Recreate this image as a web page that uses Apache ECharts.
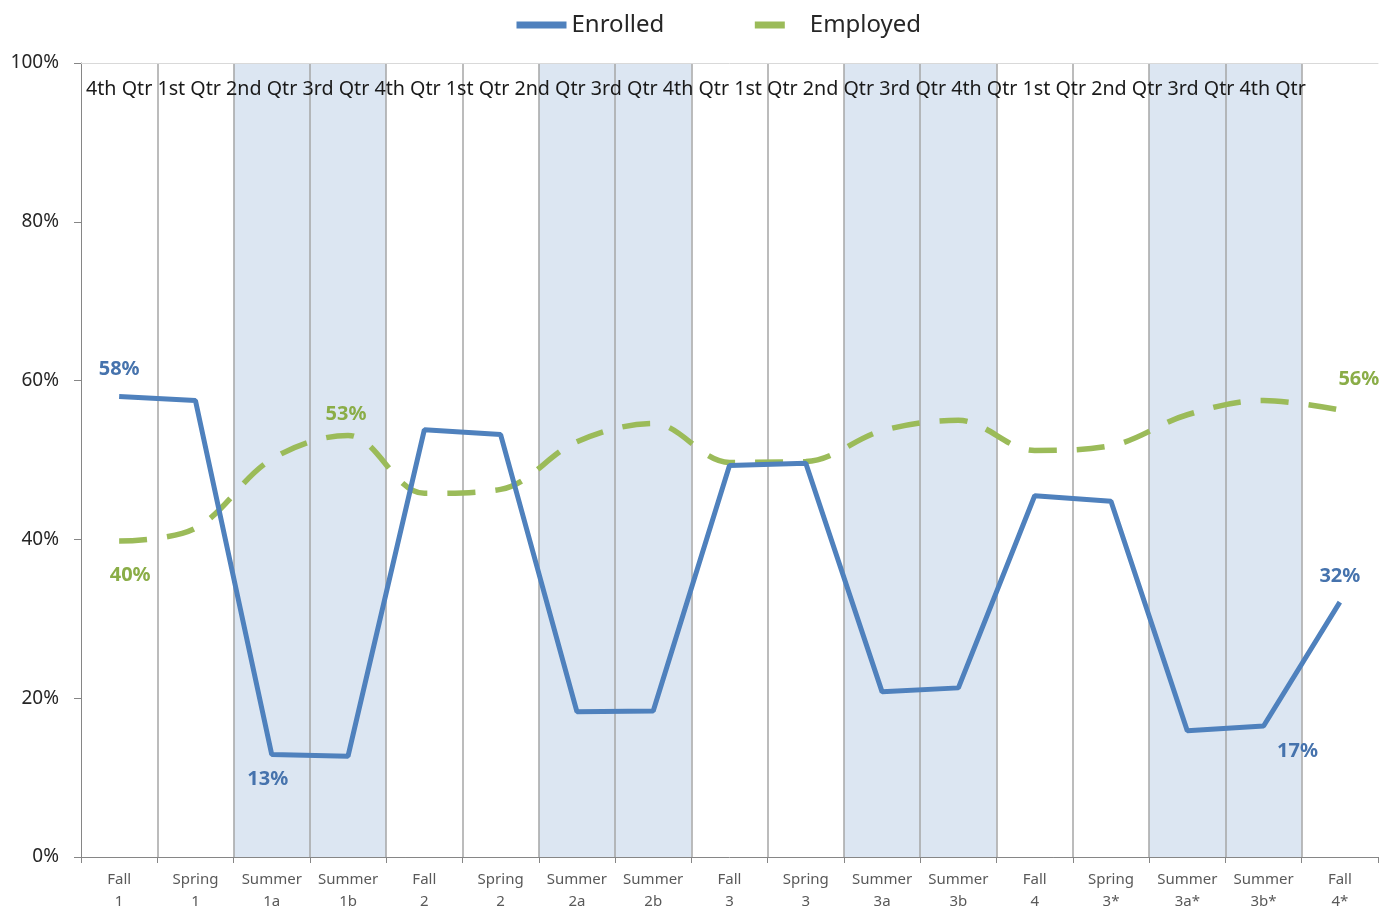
<!DOCTYPE html>
<html>
<head>
<meta charset="utf-8">
<script src="https://cdn.jsdelivr.net/npm/echarts@6/dist/echarts.min.js"></script>
<style>html,body{margin:0;padding:0;background:#fff}#c{width:1389px;height:913px}</style>
</head>
<body>
<div id="c"></div>
<script>
var categories = ['Fall\n1','Spring\n1','Summer\n1a','Summer\n1b','Fall\n2','Spring\n2','Summer\n2a','Summer\n2b','Fall\n3','Spring\n3','Summer\n3a','Summer\n3b','Fall\n4','Spring\n3*','Summer\n3a*','Summer\n3b*','Fall\n4*'];
var enrolled = [58.0, 57.5, 12.9, 12.7, 53.8, 53.2, 18.3, 18.4, 49.3, 49.6, 20.8, 21.3, 45.5, 44.8, 15.9, 16.5, 32.1];
var employed = [39.8, 41.4, 50.1, 53.1, 45.8, 46.3, 52.3, 54.6, 49.7, 49.8, 53.7, 55.0, 51.2, 51.8, 55.7, 57.5, 56.3];
var quarterLabels = ['4th Qtr','1st Qtr','2nd Qtr','3rd Qtr','4th Qtr','1st Qtr','2nd Qtr','3rd Qtr','4th Qtr','1st Qtr','2nd Qtr','3rd Qtr','4th Qtr','1st Qtr','2nd Qtr','3rd Qtr','4th Qtr'];
var yTicks = [0, 20, 40, 60, 80, 100];

var FONT = '"Noto Sans", "Open Sans", sans-serif';
var BLUE = '#4f81bd', GREEN = '#9bbb59';

// label styles for labelled points (index -> label option)
var enrolledLabels = {
  0: {position: 'top', distance: 16},
  2: {position: 'bottom', distance: 14, offset: [-4, 0]},
  15: {position: 'bottom', distance: 14, offset: [34, 0]},
  16: {position: 'top', distance: 15}
};
var employedLabels = {
  0: {position: 'bottom', distance: 23, offset: [11, 0]},
  3: {position: 'top', distance: 10, offset: [-2, 0]},
  16: {position: 'top', distance: 20, offset: [19, 0]}
};

function buildData(values, labels, color) {
  return values.map(function (v, i) {
    var item = {value: v};
    if (labels[i]) {
      item.label = Object.assign({
        show: true,
        color: color,
        fontSize: 20,
        fontWeight: 'bold',
        fontFamily: FONT,
        formatter: function (p) { return Math.round(p.value) + '%'; }
      }, labels[i]);
    }
    return item;
  });
}

var chart = echarts.init(document.getElementById('c'));
chart.setOption({
  animation: false,
  backgroundColor: '#fff',
  grid: {left: 81, right: 11, top: 63, bottom: 52, containLabel: false},
  legend: {
    left: 508, top: 8,
    itemWidth: 50, itemHeight: 14, itemGap: 87,
    itemStyle: {opacity: 0},
    textStyle: {fontSize: 24, fontFamily: FONT, color: '#262626'},
    data: [
      {name: 'Enrolled', lineStyle: {width: 7, type: 'solid', color: BLUE}},
      {name: 'Employed', lineStyle: {width: 7, type: [30, 40], color: GREEN}}
    ]
  },
  graphic: [{
    type: 'text', left: 86, top: 79, silent: true, z: 50,
    style: {text: quarterLabels.join(' '), fontSize: 19.7, fontFamily: FONT, fill: '#1a1a1a'}
  }],
  xAxis: [{
    type: 'category',
    data: categories,
    boundaryGap: true,
    axisLine: {lineStyle: {color: '#868686', width: 1}},
    axisTick: {show: true, length: 6, interval: 0, lineStyle: {color: '#868686'}},
    axisLabel: {interval: 0, margin: 12, fontSize: 15, lineHeight: 22, color: '#595959', fontFamily: FONT},
    splitLine: {show: true, interval: 0, showMinLine: false, showMaxLine: false, lineStyle: {color: '#a6a6a6', width: 1.5}},
    splitArea: {show: true, interval: 0, areaStyle: {color: ['rgba(255,255,255,0)', 'rgba(255,255,255,0)', '#dce6f2', '#dce6f2']}}
  }, {
    type: 'category',
    position: 'top',
    data: categories,
    axisLine: {show: true, lineStyle: {color: '#d9d9d9', width: 1}},
    axisTick: {show: false},
    axisLabel: {show: false},
    splitLine: {show: false}
  }],
  yAxis: {
    type: 'value',
    min: yTicks[0], max: yTicks[yTicks.length - 1], interval: 20,
    axisLine: {show: true, lineStyle: {color: '#868686', width: 1}},
    axisTick: {show: true, length: 7, lineStyle: {color: '#868686'}},
    axisLabel: {margin: 22, fontSize: 19, color: '#262626', fontFamily: FONT, formatter: '{value}%'},
    splitLine: {show: false}
  },
  series: [{
    name: 'Enrolled',
    type: 'line',
    data: buildData(enrolled, enrolledLabels, '#4673ad'),
    symbol: 'circle', symbolSize: 2, showSymbol: true,
    lineStyle: {color: BLUE, width: 5},
    itemStyle: {color: 'rgba(0,0,0,0)'},
    z: 4
  }, {
    name: 'Employed',
    type: 'line',
    smooth: 0.35,
    data: buildData(employed, employedLabels, '#8aad47'),
    symbol: 'circle', symbolSize: 2, showSymbol: true,
    lineStyle: {color: GREEN, width: 5.5, type: [28, 20], cap: 'butt'},
    itemStyle: {color: 'rgba(0,0,0,0)'},
    z: 3
  }]
});
</script>
</body>
</html>
